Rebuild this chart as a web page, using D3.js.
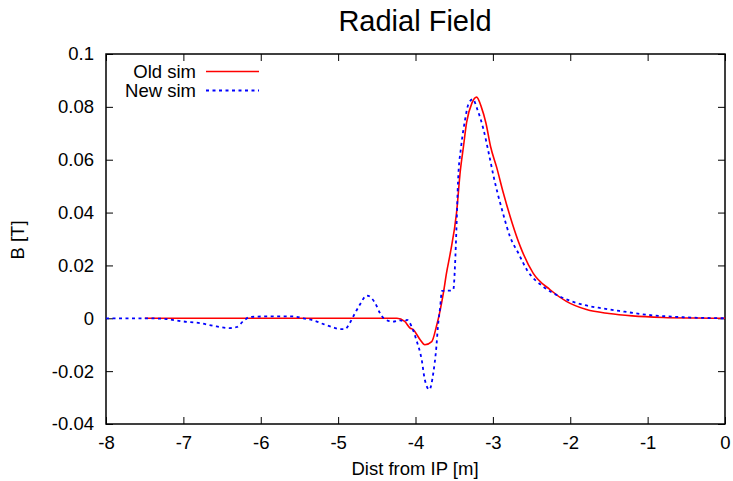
<!DOCTYPE html>
<html>
<head>
<meta charset="utf-8">
<script src="https://cdn.jsdelivr.net/npm/d3@7"></script>
<style>
  body { margin: 0; background: #fff; }
  text { font-family: "Liberation Sans", Arial, sans-serif; fill: #000; }
</style>
</head>
<body>
<div id="chart"></div>
<script>
// values
const oldX = [-7.5, -6, -5, -4.5, -4.24, -4.14, -4.07, -4.03, -3.94, -3.88, -3.79, -3.73, -3.68, -3.64, -3.6, -3.55, -3.47, -3.42, -3.38, -3.34, -3.27, -3.21, -3.15, -3.09, -3.03, -2.95, -2.87, -2.75, -2.65, -2.48, -2.26, -2.05, -1.79, -1.5, -1.2, -0.8, -0.4, 0];
const oldY = [0, 0, 0, 0, 0, -0.0012, -0.0037, -0.0043, -0.0081, -0.0100, -0.0088, -0.0031, 0.0032, 0.0095, 0.017, 0.0247, 0.0398, 0.056, 0.065, 0.074, 0.0815, 0.0837, 0.080, 0.0739, 0.065, 0.057, 0.048, 0.036, 0.0275, 0.0171, 0.0108, 0.0064, 0.0033, 0.0018, 0.0009, 0.0003, 0.0001, 0];

const newX = [-8, -7.47, -7.22, -7.0, -6.79, -6.57, -6.4, -6.31, -6.23, -6.14, -5.92, -5.58, -5.45, -5.32, -5.19, -5.06, -4.98, -4.91, -4.85, -4.78, -4.72, -4.63, -4.52, -4.46, -4.41, -4.29, -4.2, -4.14, -4.11, -4.05, -3.99, -3.92, -3.88, -3.82, -3.77, -3.73, -3.71, -3.68, -3.66, -3.6, -3.53, -3.51, -3.49, -3.47, -3.45, -3.41, -3.36, -3.32, -3.26, -3.2, -3.12, -3.05, -2.99, -2.87, -2.78, -2.67, -2.56, -2.35, -2.13, -1.83, -1.57, -1.3, -1.06, -0.54, 0];
const newY = [0, 0, -0.0003, -0.0012, -0.0018, -0.0031, -0.0037, -0.0033, -0.0012, 0.0005, 0.0007, 0.0007, 0, -0.0008, -0.0022, -0.0035, -0.0041, -0.0041, -0.0018, 0.002, 0.0051, 0.0086, 0.0057, 0.002, 0, -0.0013, -0.0008, -0.0012, -0.0006, -0.0031, -0.0081, -0.0157, -0.0232, -0.027, -0.0207, -0.0107, -0.0031, 0.0045, 0.0103, 0.0105, 0.0105, 0.011, 0.0196, 0.0347, 0.052, 0.065, 0.075, 0.0807, 0.0829, 0.079, 0.0713, 0.062, 0.0536, 0.0398, 0.031, 0.0246, 0.0183, 0.012, 0.0082, 0.0051, 0.0037, 0.0025, 0.0015, 0.0004, 0];

const xTicks = [-8, -7, -6, -5, -4, -3, -2, -1, 0];
const yTicks = [-0.04, -0.02, 0, 0.02, 0.04, 0.06, 0.08, 0.1];

const width = 733;
const height = 481;
const margin = {top: 54, right: 8, bottom: 57, left: 106};

const svg = d3.select('#chart')
  .append('svg')
    .attr('width', width)
    .attr('height', height);

const x = d3.scaleLinear()
  .domain([-8, 0])
  .range([margin.left, width - margin.right]);
const y = d3.scaleLinear()
  .domain([-0.04, 0.1])
  .range([height - margin.bottom, margin.top]);

const tickLen = 7;
const fontSize = 18.5;
// gnuplot style labels: plain hyphen, no trailing zeros
const fmt = d => String(+d.toFixed(2));

// bottom + top ticks (gnuplot mirrors them)
svg.append('g')
    .attr('transform', `translate(0, ${y(-0.04)})`)
    .call(d3.axisBottom(x).tickValues(xTicks).tickSizeInner(-tickLen).tickSizeOuter(0).tickPadding(12).tickFormat(fmt))
    .call(g => g.select('.domain').remove())
    .call(g => g.selectAll('text').attr('font-size', fontSize));
svg.append('g')
    .attr('transform', `translate(0, ${y(0.1)})`)
    .call(d3.axisTop(x).tickValues(xTicks).tickSizeInner(-tickLen).tickSizeOuter(0).tickFormat(''))
    .call(g => g.select('.domain').remove());

// left + right ticks
svg.append('g')
    .attr('transform', `translate(${x(-8)}, 0)`)
    .call(d3.axisLeft(y).tickValues(yTicks).tickSizeInner(-tickLen).tickSizeOuter(0).tickPadding(12).tickFormat(fmt))
    .call(g => g.select('.domain').remove())
    .call(g => g.selectAll('text').attr('font-size', fontSize));
svg.append('g')
    .attr('transform', `translate(${x(0)}, 0)`)
    .call(d3.axisRight(y).tickValues(yTicks).tickSizeInner(-tickLen).tickSizeOuter(0).tickFormat(''))
    .call(g => g.select('.domain').remove());

svg.selectAll('.tick line').attr('stroke', '#000').attr('stroke-width', 1);

// frame
svg.append('rect')
    .attr('x', x(-8))
    .attr('y', y(0.1))
    .attr('width', x(0) - x(-8))
    .attr('height', y(-0.04) - y(0.1))
    .attr('fill', 'none')
    .attr('stroke', '#000')
    .attr('stroke-width', 1.5);

const line = d3.line()
  .x(d => x(d[0]))
  .y(d => y(d[1]))
  .curve(d3.curveMonotoneX);

svg.append('path')
    .datum(oldX.map((v, i) => [v, oldY[i]]))
    .attr('d', line)
    .attr('fill', 'none')
    .attr('stroke', '#ff0000')
    .attr('stroke-width', 1.6);

svg.append('path')
    .datum(newX.map((v, i) => [v, newY[i]]))
    .attr('d', line)
    .attr('fill', 'none')
    .attr('stroke', '#0000ff')
    .attr('stroke-width', 1.8)
    .attr('stroke-dasharray', '3,3.5');

// legend
const legend = svg.append('g').attr('font-size', fontSize);
legend.append('text').attr('x', 196).attr('y', 78).attr('text-anchor', 'end').text('Old sim');
legend.append('line').attr('x1', 206).attr('x2', 259).attr('y1', 71.5).attr('y2', 71.5)
    .attr('stroke', '#ff0000').attr('stroke-width', 1.6);
legend.append('text').attr('x', 196).attr('y', 97).attr('text-anchor', 'end').text('New sim');
legend.append('line').attr('x1', 206).attr('x2', 259).attr('y1', 90.5).attr('y2', 90.5)
    .attr('stroke', '#0000ff').attr('stroke-width', 1.8).attr('stroke-dasharray', '3,3.5');

// titles
svg.append('text')
    .attr('x', 415)
    .attr('y', 31)
    .attr('text-anchor', 'middle')
    .attr('font-size', 29)
    .text('Radial Field');
svg.append('text')
    .attr('x', 415)
    .attr('y', 475)
    .attr('text-anchor', 'middle')
    .attr('font-size', fontSize)
    .text('Dist from IP [m]');
svg.append('text')
    .attr('transform', 'translate(24, 240) rotate(-90)')
    .attr('text-anchor', 'middle')
    .attr('font-size', fontSize)
    .text('B [T]');
</script>
</body>
</html>
